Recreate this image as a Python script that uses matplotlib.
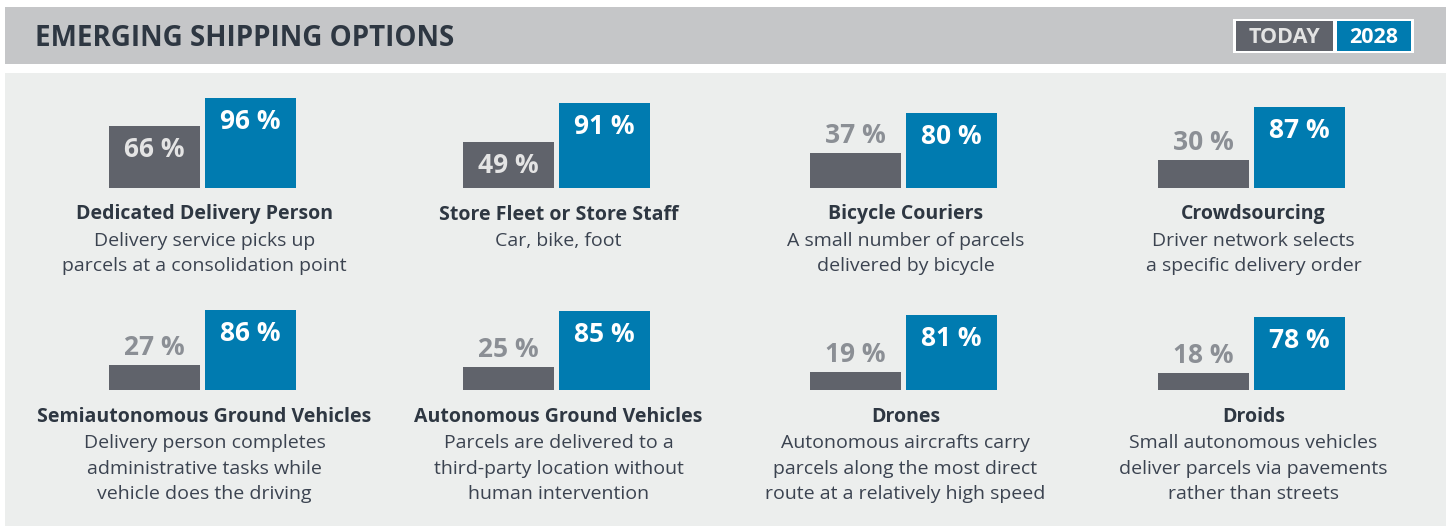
import matplotlib
matplotlib.use("Agg")
import matplotlib.pyplot as plt
from matplotlib.patches import Rectangle

plt.rcParams['font.family'] = ['Open Sans', 'DejaVu Sans']

title = "EMERGING SHIPPING OPTIONS"
series = ["TODAY", "2028"]
options = ["Dedicated Delivery Person", "Store Fleet or Store Staff", "Bicycle Couriers",
           "Crowdsourcing", "Semiautonomous Ground Vehicles", "Autonomous Ground Vehicles",
           "Drones", "Droids"]
descriptions = [
    "Delivery service picks up\nparcels at a consolidation point",
    "Car, bike, foot",
    "A small number of parcels\ndelivered by bicycle",
    "Driver network selects\na specific delivery order",
    "Delivery person completes\nadministrative tasks while\nvehicle does the driving",
    "Parcels are delivered to a\nthird-party location without\nhuman intervention",
    "Autonomous aircrafts carry\nparcels along the most direct\nroute at a relatively high speed",
    "Small autonomous vehicles\ndeliver parcels via pavements\nrather than streets",
]
today = [66, 49, 37, 30, 27, 25, 19, 18]
future = [96, 91, 80, 87, 86, 85, 81, 78]

GRAY = "#60636b"
BLUE = "#007bb0"
DARK = "#2e3742"
TEXT = "#3b4350"

W, H = 1455, 527
fig = plt.figure(figsize=(W / 100, H / 100), dpi=100)
fig.patch.set_facecolor("white")

# background canvas in pixel coordinates
bg = fig.add_axes([0, 0, 1, 1])
bg.set_xlim(0, W)
bg.set_ylim(H, 0)
bg.axis("off")

bg.add_patch(Rectangle((5, 7), 1441, 57, color="#c5c6c8", lw=0))
bg.add_patch(Rectangle((5, 73), 1441, 453, color="#eceeed", lw=0))
bg.text(35, 46, title, fontsize=20, fontweight="bold", color=DARK, va="baseline")

# legend boxes
bg.add_patch(Rectangle((1233, 19), 181, 34, color="white", lw=0))
bg.add_patch(Rectangle((1236, 21), 97, 30, color=GRAY, lw=0))
bg.add_patch(Rectangle((1337, 21), 74, 30, color=BLUE, lw=0))
bg.text(1284.5, 43, series[0], fontsize=15.5, fontweight="bold", color="#e3e3e3",
        ha="center", va="baseline")
bg.text(1374, 43, series[1], fontsize=15.5, fontweight="bold", color="white",
        ha="center", va="baseline")

centers = [202.5, 556.5, 903.5, 1251.5]
baselines = [187.5, 390]
unit = 96      # px between bar centres
scale = 0.93   # px per percent

for i, name in enumerate(options):
    cx = centers[i % 4]
    base = baselines[i // 4]
    ax = fig.add_axes([(cx - unit) / W, (H - base) / H, 2 * unit / W, 100 * scale / H])
    ax.set_xlim(-0.5, 1.5)
    ax.set_ylim(0, 100)
    ax.axis("off")
    bars = ax.bar([0, 1], [today[i], future[i]], width=91 / unit, color=[GRAY, BLUE])

    # today label: inside if tall enough, else above
    if today[i] >= 45:
        ax.annotate(f"{today[i]} %", (0, today[i]), xytext=(0, -31), textcoords="offset pixels",
                    ha="center", va="baseline", fontsize=19, fontweight="bold", color="#e4e4e4")
    else:
        ax.annotate(f"{today[i]} %", (0, today[i]), xytext=(0, 10), textcoords="offset pixels",
                    ha="center", va="baseline", fontsize=19, fontweight="bold", color="#8b8f95")
    ax.annotate(f"{future[i]} %", (1, future[i]), xytext=(0, -31), textcoords="offset pixels",
                ha="center", va="baseline", fontsize=19, fontweight="bold", color="white")

    bg.text(cx + 2, base + 32, name, fontsize=14, fontweight="bold", color=DARK,
            ha="center", va="baseline")
    for j, line in enumerate(descriptions[i].split("\n")):
        bg.text(cx + 2, base + 58 + 25.7 * j, line, fontsize=14, color=TEXT,
                ha="center", va="baseline")

fig.savefig("out.png", dpi=100)
